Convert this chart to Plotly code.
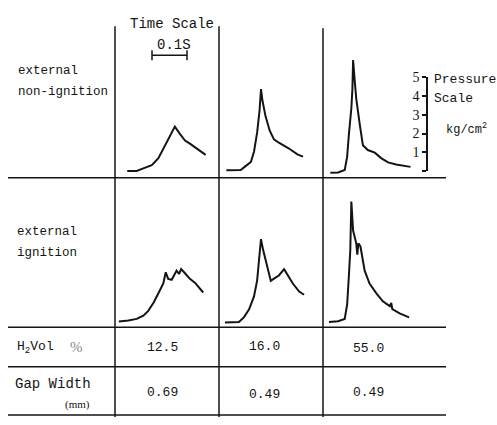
import plotly.graph_objects as go

W, H = 497, 425

# ---------------- data ----------------
# time in seconds from the left edge of each cell, pressure in kg/cm^2
NONIGN_125_T = [0.035, 0.062, 0.081, 0.105, 0.124, 0.143, 0.157, 0.171, 0.186, 0.200, 0.214, 0.233, 0.248, 0.259]
NONIGN_125_P = [0.00, 0.00, 0.14, 0.31, 0.69, 1.38, 1.89, 2.37, 1.97, 1.63, 1.46, 1.20, 0.99, 0.86]

NONIGN_160_T = [0.021, 0.062, 0.076, 0.091, 0.100, 0.109, 0.116, 0.120, 0.124, 0.133, 0.145, 0.157, 0.171, 0.200, 0.224, 0.240]
NONIGN_160_P = [0.04, 0.05, 0.26, 0.48, 1.03, 2.06, 3.26, 4.38, 3.78, 2.92, 2.15, 1.69, 1.51, 1.20, 0.89, 0.77]

NONIGN_550_T = [0.021, 0.043, 0.062, 0.069, 0.074, 0.081, 0.084, 0.086, 0.091, 0.095, 0.105, 0.114, 0.128, 0.148, 0.166, 0.186, 0.209, 0.229, 0.250]
NONIGN_550_P = [-0.10, -0.08, 0.05, 0.77, 1.97, 3.35, 4.38, 5.93, 4.73, 3.87, 2.49, 1.38, 1.12, 0.98, 0.69, 0.46, 0.35, 0.29, 0.22]

IGN_125_T = [0.011, 0.038, 0.062, 0.081, 0.095, 0.110, 0.124, 0.138, 0.145, 0.152, 0.162, 0.171, 0.176, 0.183, 0.189, 0.200, 0.214, 0.229, 0.243, 0.252]
IGN_125_P = [0.05, 0.10, 0.19, 0.36, 0.62, 1.05, 1.56, 2.08, 2.68, 2.33, 2.28, 2.59, 2.77, 2.59, 2.85, 2.63, 2.33, 2.11, 1.77, 1.60]

IGN_160_T = [0.017, 0.057, 0.071, 0.086, 0.100, 0.109, 0.114, 0.120, 0.126, 0.138, 0.148, 0.157, 0.171, 0.186, 0.195, 0.211, 0.229, 0.243]
IGN_160_P = [0.00, 0.02, 0.27, 0.70, 1.39, 2.25, 3.27, 4.45, 3.88, 2.94, 2.22, 2.34, 2.51, 2.85, 2.59, 2.08, 1.65, 1.48]

IGN_550_T = [0.017, 0.043, 0.062, 0.069, 0.074, 0.078, 0.081, 0.086, 0.095, 0.098, 0.101, 0.107, 0.119, 0.133, 0.152, 0.171, 0.191, 0.195, 0.198, 0.219, 0.246]
IGN_550_P = [0.02, 0.07, 0.19, 0.96, 2.51, 3.88, 6.46, 4.91, 4.23, 3.62, 4.23, 4.06, 2.77, 2.08, 1.57, 1.13, 0.87, 1.05, 0.71, 0.48, 0.27]

ROW_LABELS = [["external", "non-ignition"], ["external", "ignition"]]
H2_VOL = ["12.5", "16.0", "55.0"]
GAP_WIDTH = ["0.69", "0.49", "0.49"]
PRESSURE_TICKS = [0, 1, 2, 3, 4, 5]
PRESSURE_TICKTEXT = [" ", "1", "2", "3", "4", "5"]
TIME_SCALE_S = 0.1

CURVES = [
    (NONIGN_125_T, NONIGN_125_P), (NONIGN_160_T, NONIGN_160_P), (NONIGN_550_T, NONIGN_550_P),
    (IGN_125_T, IGN_125_P), (IGN_160_T, IGN_160_P), (IGN_550_T, IGN_550_P),
]

# ---------------- layout geometry (pixels) ----------------
PX_PER_S = 350.0
PX_PER_UNIT = 19.4
COL_X = [115, 219, 323, 427]
ROW_Y = [(0, 177, 170), (177, 332, 327)]  # (top, bottom, baseline pixel)
INK = "#141414"
MONO = "Liberation Mono"
SERIF = "Liberation Serif"


def fx(px):
    return px / W


def fy(py):
    return 1 - py / H


fig = go.Figure()
layout = {}
idx = 0
for r, (top, bot, base) in enumerate(ROW_Y):
    for c in range(3):
        idx += 1
        x0, x1 = COL_X[c], COL_X[c + 1]
        t, p = CURVES[idx - 1]
        xa = "x" if idx == 1 else f"x{idx}"
        ya = "y" if idx == 1 else f"y{idx}"
        fig.add_trace(go.Scatter(x=t, y=p, mode="lines", xaxis=xa, yaxis=ya,
                                 line=dict(color=INK, width=2), hoverinfo="skip",
                                 showlegend=False))
        key = "" if idx == 1 else str(idx)
        layout["xaxis" + key] = dict(domain=[fx(x0), fx(x1)], range=[0, (x1 - x0) / PX_PER_S],
                                     visible=False, anchor=ya[0] + key, fixedrange=True)
        layout["yaxis" + key] = dict(domain=[fy(bot), fy(top)],
                                     range=[(base - bot) / PX_PER_UNIT, (base - top) / PX_PER_UNIT],
                                     visible=False, anchor="x" + key, fixedrange=True)

# time scale bar (0.1 s) drawn on the first cell's axes
bar_t0 = (152 - COL_X[0]) / PX_PER_S
bar_p = (ROW_Y[0][2] - 50) / PX_PER_UNIT
fig.add_trace(go.Scatter(x=[bar_t0, bar_t0 + TIME_SCALE_S], y=[bar_p, bar_p],
                         mode="lines+markers", xaxis="x", yaxis="y",
                         line=dict(color=INK, width=1.5),
                         marker=dict(symbol="line-ns-open", size=7, line=dict(color=INK, width=1.5)),
                         hoverinfo="skip", showlegend=False))

# pressure scale axis
fig.add_trace(go.Scatter(x=[0], y=[0], xaxis="x7", yaxis="y7", mode="markers",
                         marker=dict(opacity=0), hoverinfo="skip", showlegend=False))
layout["xaxis7"] = dict(domain=[fx(430), fx(440)], visible=False, anchor="y7", fixedrange=True)
layout["yaxis7"] = dict(domain=[fy(170), fy(170 - 5 * PX_PER_UNIT)], range=[0, 5],
                        anchor="free", position=fx(427), side="left",
                        showline=True, linecolor=INK, linewidth=1.5,
                        ticks="outside", ticklen=4, tickwidth=1.5, tickcolor=INK,
                        tickvals=PRESSURE_TICKS, ticktext=PRESSURE_TICKTEXT,
                        tickfont=dict(family=SERIF, size=14, color=INK),
                        showgrid=False, zeroline=False, fixedrange=True)

# table lines
shapes = []
for y in (177, 332, 373, 423):
    shapes.append(dict(type="line", xref="paper", yref="paper", x0=fx(8), x1=fx(446),
                       y0=fy(y), y1=fy(y), line=dict(color=INK, width=1.5)))
for x, ytop in ((115, 20), (219, 20), (323, 22)):
    shapes.append(dict(type="line", xref="paper", yref="paper", x0=fx(x), x1=fx(x),
                       y0=fy(ytop), y1=fy(425), line=dict(color=INK, width=1.5)))

ann = []


def text(s, x, y, size=13, family=MONO, anchor="left", color=INK):
    ann.append(dict(text=s, x=fx(x), y=fy(y), xref="paper", yref="paper", showarrow=False,
                    xanchor=anchor, yanchor="middle", font=dict(family=family, size=size, color=color)))


text("Time Scale", 128, 18, size=14)
text("0.1S", 174, 39, size=14, anchor="center")
text(ROW_LABELS[0][0], 16, 66, size=12.5)
text(ROW_LABELS[0][1], 16, 88, size=12.5)
text(ROW_LABELS[1][0], 15, 233, size=12.5)
text(ROW_LABELS[1][1], 15, 255, size=12.5)
text("H<sub>2</sub>Vol", 15, 353, size=13)
text("%", 76, 352, size=15, family=SERIF, anchor="center", color="#8a8a8a")
text("Gap Width", 13, 391, size=14)
text("(mm)", 92, 412, size=11, family=SERIF, anchor="right")
centers = [162, 264, 368]
for i in range(3):
    text(H2_VOL[i], centers[i], [353, 352, 354][i], size=13, anchor="center")
    text(GAP_WIDTH[i], centers[i], [400, 402, 400][i], size=13, anchor="center")
text("Pressure", 432, 75, size=13)
text("Scale", 432, 95, size=13)
text("kg/cm<sup>2</sup>", 444, 126, size=12)

fig.update_layout(**layout)
fig.update_layout(width=W, height=H, margin=dict(l=0, r=0, t=0, b=0),
                  paper_bgcolor="white", plot_bgcolor="white",
                  shapes=shapes, annotations=ann, showlegend=False)

fig.write_html("out.html", config={"displayModeBar": False})
